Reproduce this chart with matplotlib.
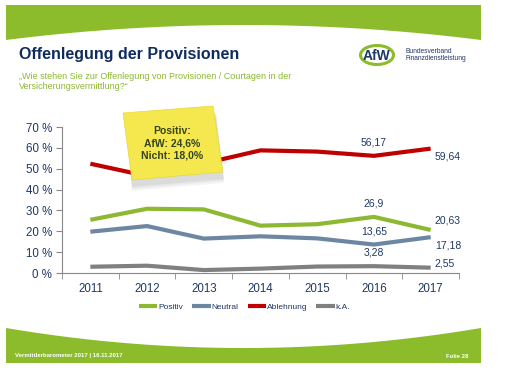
import numpy as np
import matplotlib
matplotlib.use("Agg")
from matplotlib import pyplot as plt
from matplotlib.patches import Polygon, Ellipse

plt.rcParams['font.family'] = ['Liberation Sans', 'DejaVu Sans']

# data
years = ['2011', '2012', '2013', '2014', '2015', '2016', '2017']
positiv = [25.5, 30.8, 30.5, 22.7, 23.4, 26.9, 20.63]
neutral = [19.8, 22.5, 16.5, 17.6, 16.6, 13.65, 17.18]
ablehnung = [52.4, 46.5, 52.5, 58.8, 58.2, 56.17, 59.64]
ka = [3.0, 3.5, 1.4, 2.1, 3.1, 3.28, 2.55]
series_names = ['Positiv', 'Neutral', 'Ablehnung', 'k.A.']
yticks = [0, 10, 20, 30, 40, 50, 60, 70]

green = '#8CBC2B'
navy = '#1F3864'
colors = ['#8DB832', '#6D87A3', '#C00000', '#808080']

W, H = 506, 380
fig = plt.figure(figsize=(W / 100, H / 100), dpi=100)

# background layer in pixel coords
bg = fig.add_axes([0, 0, 1, 1], zorder=0)
bg.set_xlim(0, W)
bg.set_ylim(H, 0)
bg.axis('off')

x = np.linspace(6, 481, 200)
t = (x - 243.5) / 237.5
top_curve = 25 + 15 * t ** 2
bg.add_patch(Polygon(list(zip(x, top_curve)) + [(481, 5), (6, 5)], closed=True,
                     fc=green, ec='none'))
bot_curve = 348 - 20 * t ** 2
bg.add_patch(Polygon(list(zip(x, bot_curve)) + [(481, 363), (6, 363)], closed=True,
                     fc=green, ec='none'))

bg.text(19, 55, 'Offenlegung der Provisionen', fontsize=11.5, fontweight='bold',
        color='#102C5E', va='center', ha='left')
bg.text(19, 81.5, '\u201eWie stehen Sie zur Offenlegung von Provisionen / Courtagen in der\n'
        'Versicherungsvermittlung?\u201c', fontsize=6.5, color='#8DB832',
        va='center', ha='left', linespacing=1.2)

# logo
bg.add_patch(Ellipse((377, 55), 33, 19, fc='white', ec=green, lw=2.2))
bg.text(377, 55.5, 'AfW', fontsize=10, fontweight='bold', color=navy,
        ha='center', va='center')
bg.text(406, 55, 'Bundesverband\nFinanzdienstleistung', fontsize=4.8, color=navy,
        ha='left', va='center', linespacing=1.15)

bg.text(15, 356, 'Vermittlerbarometer 2017 | 16.11.2017', fontsize=4.3,
        fontweight='bold', color='white', va='center', ha='left')
bg.text(468, 356, 'Folie 28', fontsize=4.3, fontweight='bold', color='white',
        va='center', ha='right')

# chart
ax = fig.add_axes([62 / W, 1 - 273 / H, 397 / W, 146 / H], zorder=2)
ax.patch.set_alpha(0)
xs = np.arange(len(years))
for vals, c, name in zip([positiv, neutral, ablehnung, ka], colors, series_names):
    ax.plot(xs, vals, color=c, lw=3, label=name, solid_capstyle='butt')

ax.set_xlim(-0.5, len(years) - 0.5)
ax.set_ylim(0, 70)
ax.set_yticks(yticks)
ax.set_yticklabels([f'{v} %' for v in yticks])
ax.set_xticks(xs)
ax.set_xticklabels(years)
ax.set_xticks(np.arange(-0.5, len(years), 1), minor=True)
ax.tick_params(axis='x', which='major', length=0, pad=7, labelsize=8.3, labelcolor=navy)
ax.tick_params(axis='x', which='minor', length=4, color='#888888')
ax.tick_params(axis='y', length=4, color='#888888', labelsize=8.3, labelcolor=navy, pad=3)
for s in ['top', 'right']:
    ax.spines[s].set_visible(False)
ax.spines['left'].set_color('#888888')
ax.spines['bottom'].set_color('#888888')

# data labels for 2016 (above) and 2017 (right)
lab_kw = dict(fontsize=7.5, color=navy)
for vals in [ablehnung, positiv, neutral, ka]:
    v = vals[5]
    ax.annotate(f'{v:g}'.replace('.', ','), (5, v), xytext=(0, 6),
                textcoords='offset points', ha='center', va='bottom', **lab_kw)
for vals, dy in zip([ablehnung, positiv, neutral, ka], [-6, 7, -6, 3]):
    v = vals[6]
    ax.annotate(f'{v:g}'.replace('.', ','), (6, v), xytext=(3, dy),
                textcoords='offset points', ha='left', va='center', **lab_kw)

ax.legend(loc='upper center', bbox_to_anchor=(0.46, -0.155), ncol=4, frameon=False,
          fontsize=6, handlelength=2.2, handletextpad=0.1, columnspacing=1.1,
          labelcolor=navy)

# sticky note overlay
ov = fig.add_axes([0, 0, 1, 1], zorder=5)
ov.set_xlim(0, W)
ov.set_ylim(H, 0)
ov.axis('off')
ov.patch.set_alpha(0)
for k, a in [(7, 0.06), (5, 0.08), (3, 0.1)]:
    ov.add_patch(Polygon([(126, 118 + k), (216, 110 + k), (224, 176 + k), (132, 184 + k)],
                         closed=True, fc='#606060', ec='none', alpha=a))
ov.add_patch(Polygon([(123, 113), (213, 106), (223, 172), (132, 180)], closed=True,
                     fc='#F5E84E', ec='#E8D93A', lw=0.5))
ov.text(172, 143, 'Positiv:\nAfW: 24,6%\nNicht: 18,0%', fontsize=7.5, fontweight='bold',
        color='#344420', ha='center', va='center', linespacing=1.3)

fig.savefig('out.png', dpi=100)
